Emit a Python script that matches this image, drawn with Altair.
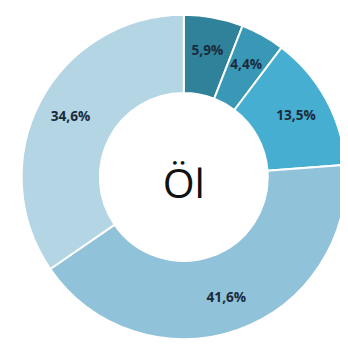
import altair as alt
import pandas as pd

# data
shares = [5.9, 4.4, 13.5, 41.6, 34.6]
labels = ["5,9%", "4,4%", "13,5%", "41,6%", "34,6%"]
colors = ["#2f8299", "#3a98b7", "#46aed1", "#90c3d9", "#b3d5e4"]
center_label = ["Öl"]

df = pd.DataFrame({
    "idx": list(range(len(shares))),
    "share": shares,
    "label": labels,
})

CX, CY = 180, 169

base = alt.Chart(df).encode(
    theta=alt.Theta("share:Q", stack=True),
    order=alt.Order("idx:Q"),
    x=alt.value(CX),
    y=alt.value(CY),
)

arcs = base.mark_arc(outerRadius=166, innerRadius=86, stroke="white", strokeWidth=2).encode(
    color=alt.Color("idx:N", scale=alt.Scale(domain=list(range(len(shares))), range=colors), legend=None),
)

texts = base.mark_text(radius=131, font="Open Sans", fontWeight="bold", fontSize=14,
                       color="#1b2b3c").encode(text="label:N")

center = alt.Chart(pd.DataFrame({"t": center_label})).mark_text(
    font="Open Sans", fontSize=42, color="#111111", baseline="middle", align="center"
).encode(text="t:N", x=alt.value(CX), y=alt.value(CY + 9))

chart = alt.layer(arcs, texts, center).properties(
    width=340, height=337, padding=0, autosize=alt.AutoSizeParams(type="none")
).configure_view(stroke=None)

chart.save("out.html", embed_options={"renderer": "svg", "actions": False})
